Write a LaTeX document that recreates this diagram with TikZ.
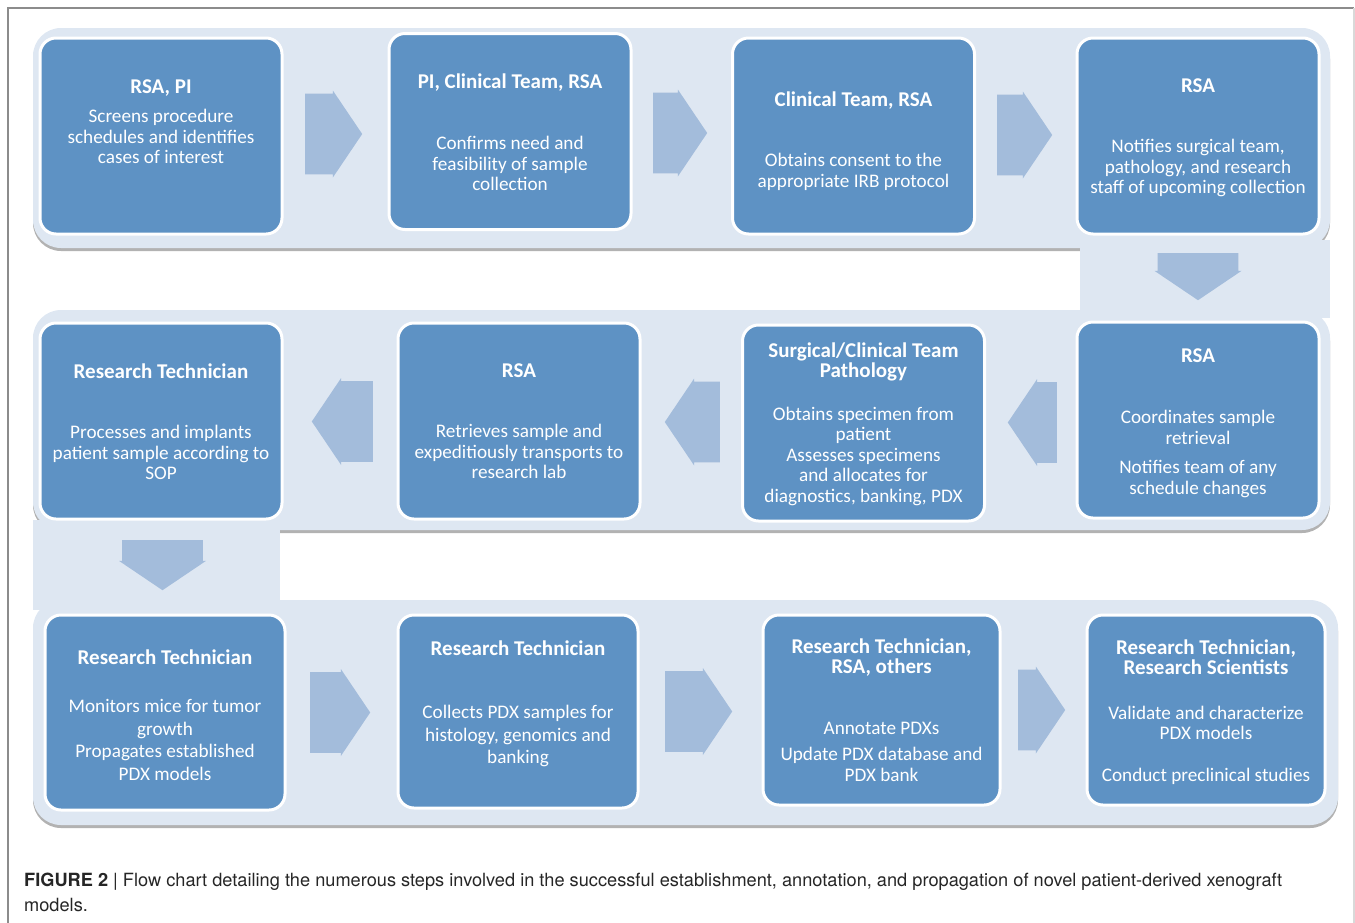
\documentclass[tikz,border=0pt]{standalone}
\usepackage{fontspec}
\setmainfont{Carlito}
\newfontfamily\capfont{TeX Gyre Heros}
\usetikzlibrary{shapes.arrows}
\definecolor{boxblue}{HTML}{5E92C4}
\definecolor{bandblue}{HTML}{DEE7F2}
\definecolor{arrowblue}{HTML}{A3BCDB}
\newcommand{\who}[1]{{\fontsize{21}{20.5}\bfseries\selectfont #1}}
\begin{document}
\begin{tikzpicture}[
  x=1pt, y=-1pt,
  every node/.style={font=\fontsize{19.2}{20.5}\selectfont},
  band/.style={fill=bandblue, rounded corners=28pt},
  bandshadow/.style={fill=black!30, rounded corners=28pt, yshift=-3pt},
  stepbox/.style={draw=white, line width=3pt, fill=boxblue, rounded corners=16pt,
    minimum width=242pt, minimum height=196pt, inner sep=0pt},
  steptext/.style={text=white, align=center, anchor=north, inner sep=0pt},
  blockarrow/.style={single arrow, fill=arrowblue, anchor=tail, inner xsep=0pt,
    inner ysep=26pt, minimum width=87pt, single arrow tip angle=112,
    single arrow head extend=2pt},
]
\useasboundingbox (0,0) rectangle (1355,922);

% ── frame ──────────────────────────
\draw[black!45, line width=1.2pt] (8,930) -- (8,8) -- (1354,8);
\draw[black!15, line width=1.2pt] (1354,8) -- (1354,930);

% ── background band (shadow first) ──
\foreach \s in {bandshadow, band} {
  \fill[\s] (33,28) rectangle (1330,248);
  \fill[\s] (33,310) rectangle (1330,530);
  \fill[\s] (33,600) rectangle (1338,825);
}
\fill[bandblue] (1080,240) rectangle (1330,318);
\fill[bandblue] (33,520) rectangle (280,610);

% ── row 1 ──────────────────────────
\node[stepbox] (b1) at (161,136) {};
\node[stepbox] (b2) at (510,131.5) {};
\node[stepbox] (b3) at (853.5,136) {};
\node[stepbox] (b4) at (1198,136) {};

\node[steptext] (t1) at (161,79.5)
  {\who{RSA, PI}\\[9pt] Screens procedure\\ schedules and identifies\\ cases of interest};
\node[steptext] (t2) at (510,73.5)
  {\who{PI, Clinical Team, RSA}\\[41pt] Confirms need and\\ feasibility of sample\\ collection};
\node[steptext] (t3) at (853.5,91.5)
  {\who{Clinical Team, RSA}\\[40pt] Obtains consent to the\\ appropriate IRB protocol};
\node[steptext] (t4) at (1198,78.5)
  {\who{RSA}\\[40pt] Notifies surgical team,\\ pathology, and research\\ staff of upcoming collection};

\node[blockarrow, minimum height=57pt] (a12) at (305,134) {};
\node[blockarrow, minimum height=54pt] (a23) at (653,133) {};
\node[blockarrow, minimum height=55pt] (a34) at (997,135) {};
\node[blockarrow, minimum height=47pt, rotate=-90] (a45) at (1198,253) {};

% ── row 2 (right to left) ──────────
\node[stepbox] (b5) at (1198,420) {};
\node[stepbox] (b6) at (863.5,423) {};
\node[stepbox] (b7) at (519,421) {};
\node[stepbox] (b8) at (161,421) {};

\node[steptext] (t5) at (1198,348.5)
  {\who{RSA}\\[41pt] Coordinates sample\\ retrieval\\[9pt] Notifies team of any\\ schedule changes};
\node[steptext] (t6) at (863.5,342.5)
  {\who{Surgical/Clinical Team}\\ \who{Pathology}\\[22pt] Obtains specimen from\\ patient\\
   Assesses specimens\\ and allocates for\\ diagnostics, banking, PDX};
\node[steptext] (t7) at (519,363.5)
  {\who{RSA}\\[40pt] Retrieves sample and\\ expeditiously transports to\\ research lab};
\node[steptext] (t8) at (161,363.5)
  {\who{Research Technician}\\[40pt] Processes and implants\\ patient sample according to\\ SOP};

\node[blockarrow, minimum height=49pt, rotate=180] (a56) at (1057,422.5) {};
\node[blockarrow, minimum height=55pt, rotate=180] (a67) at (720,422) {};
\node[blockarrow, minimum height=61pt, rotate=180] (a78) at (373,421.5) {};
\node[blockarrow, minimum height=50pt, rotate=-90] (a89) at (162.5,540) {};

% ── row 3 ──────────────────────────
\node[stepbox, minimum width=240pt, minimum height=195pt] (b9) at (165,712.5) {};
\node[stepbox, minimum width=240pt, minimum height=193pt] (b10) at (518,711.5) {};
\node[stepbox, minimum width=237pt, minimum height=190pt] (b11) at (881.5,710) {};
\node[stepbox, minimum width=238pt, minimum height=190pt] (b12) at (1206,710) {};

\node[steptext] (t9) at (165,649.5)
  {\who{Research Technician}\\[28pt] Monitors mice for tumor\\[2pt] growth\\[2pt]
   Propagates established\\[2pt] PDX models};
\node[steptext] (t10) at (518,640.5)
  {\who{Research Technician}\\[43pt] Collects PDX samples for\\[2pt] histology, genomics and\\[2pt] banking};
\node[steptext] (t11) at (881.5,638.5)
  {\who{Research Technician,}\\ \who{RSA, others}\\[40pt] Annotate PDXs\\[6pt] Update PDX database and\\ PDX bank};
\node[steptext] (t12) at (1206,639.5)
  {\who{Research Technician,}\\ \who{Research Scientists}\\[24pt] Validate and characterize\\ PDX models\\[21pt]
   Conduct preclinical studies};

\node[blockarrow, minimum height=60pt] (a910) at (310,712.5) {};
\node[blockarrow, minimum height=67pt] (a1011) at (665,711.5) {};
\node[blockarrow, minimum height=47pt] (a1112) at (1018,710) {};

% ── caption ────────────────────────
\node[anchor=north west, inner sep=0pt, align=left, text=black!85,
      font=\capfont\fontsize{18.2}{25.5}\selectfont] (cap) at (24,872.5)
  {\textbf{FIGURE 2} | Flow chart detailing the numerous steps involved in the successful establishment,
   annotation, and propagation of novel patient-derived xenograft\\ models.};

\end{tikzpicture}
\end{document}
